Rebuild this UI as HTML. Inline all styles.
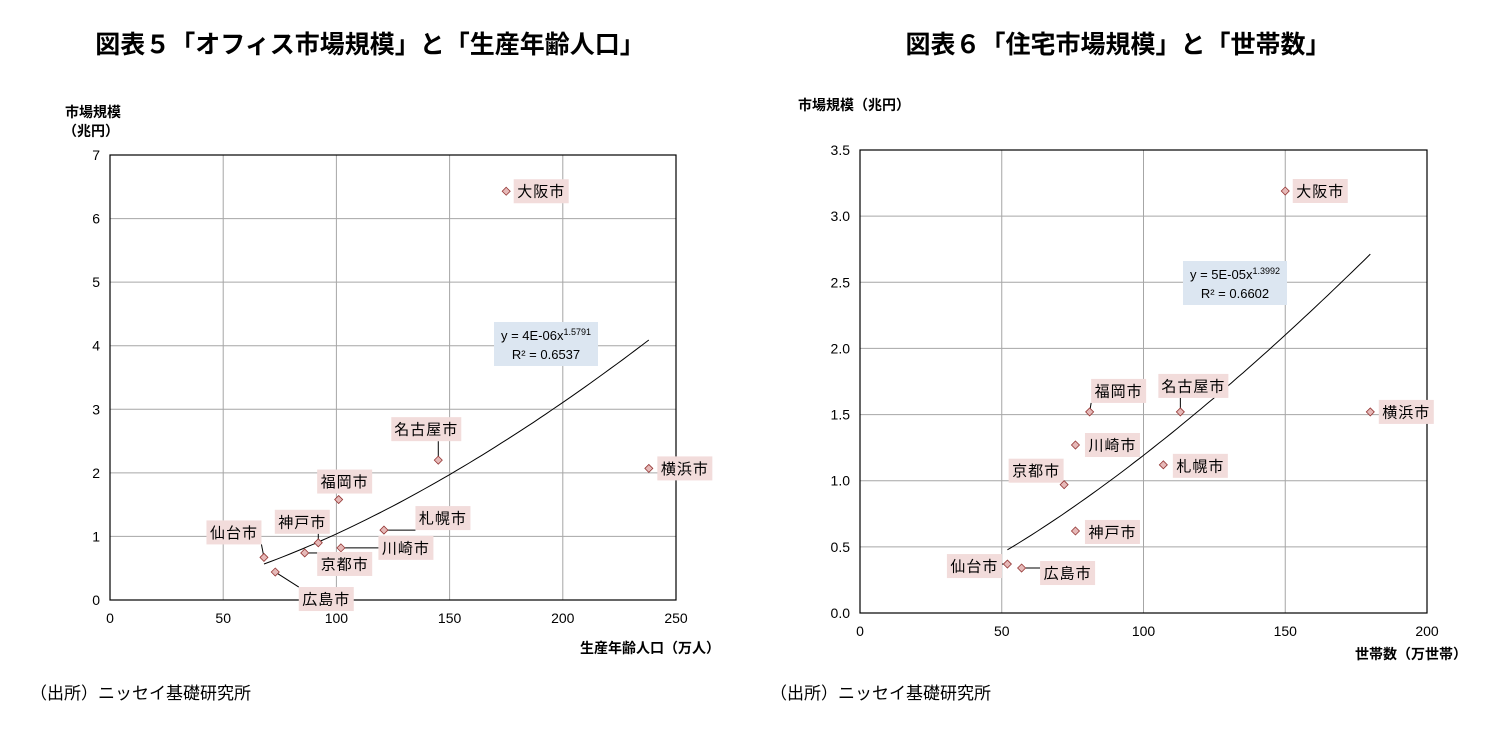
<!DOCTYPE html>
<html><head><meta charset="utf-8">
<style>
body{margin:0;background:#fff;font-family:"Liberation Sans","Noto Sans CJK JP",sans-serif;}
svg text{font-family:"Liberation Sans","Noto Sans CJK JP",sans-serif;}
</style></head>
<body>
<svg id="svg" width="1496" height="731" viewBox="0 0 1496 731" xmlns="http://www.w3.org/2000/svg">
<text x="370" y="53" text-anchor="middle" font-size="25" font-weight="bold" fill="#000">図表５「オフィス市場規模」と「生産年齢人口」</text>
<text x="1118" y="53" text-anchor="middle" font-size="25" font-weight="bold" fill="#000">図表６「住宅市場規模」と「世帯数」</text>
<text x="65" y="117" font-size="14" font-weight="bold">市場規模</text>
<text x="63" y="136" font-size="14" font-weight="bold">（兆円）</text>
<text x="720" y="653" text-anchor="end" font-size="14" font-weight="bold">生産年齢人口（万人）</text>
<text x="798" y="110" font-size="14" font-weight="bold">市場規模（兆円）</text>
<text x="1467" y="659" text-anchor="end" font-size="14" font-weight="bold">世帯数（万世帯）</text>
<text x="30" y="699" font-size="17">（出所）ニッセイ基礎研究所</text>
<text x="770" y="699" font-size="17">（出所）ニッセイ基礎研究所</text>
<g id="left"></g>
<g id="right"></g>
</svg>
<script>
// Left chart data
const leftCities = ["大阪市","横浜市","名古屋市","福岡市","札幌市","神戸市","川崎市","京都市","仙台市","広島市"];
const leftX = [175,238,145,101,121,92,102,86,68,73];
const leftY = [6.43,2.07,2.2,1.58,1.1,0.9,0.82,0.74,0.67,0.44];
const leftXTicks = [0,50,100,150,200,250];
const leftYTicks = [0,1,2,3,4,5,6,7];
const leftTrendExp = 1.5791;
// Right chart data
const rightCities = ["大阪市","横浜市","名古屋市","福岡市","川崎市","札幌市","京都市","神戸市","仙台市","広島市"];
const rightX = [150,180,113,81,76,107,72,76,52,57];
const rightY = [3.19,1.52,1.52,1.52,1.27,1.12,0.97,0.62,0.37,0.34];
const rightXTicks = [0,50,100,150,200];
const rightYTicks = [0,0.5,1,1.5,2,2.5,3,3.5];
const rightYLabels = ["0.0","0.5","1.0","1.5","2.0","2.5","3.0","3.5"];
const rightTrendExp = 1.3992;

const NS="http://www.w3.org/2000/svg";
function mk(parent,tag,attrs,text){const e=document.createElementNS(NS,tag);for(const k in attrs)e.setAttribute(k,attrs[k]);if(text!==undefined)e.textContent=text;parent.appendChild(e);return e;}

// label center offsets from point (layout): [dx,dy,leader]
const leftLab={"大阪市":[35,0,0],"横浜市":[36,0,0],"名古屋市":[-12,-31,1],"福岡市":[6,-18,0],"札幌市":[59,-12,1],"神戸市":[-16,-21,1],"川崎市":[65,0,1],"京都市":[40,11,1],"仙台市":[-30,-25,1],"広島市":[51,27,1]};
const rightLab={"大阪市":[35,0,0],"横浜市":[36,0,0],"名古屋市":[13,-26,1],"福岡市":[29,-21,1],"川崎市":[37,0,0],"札幌市":[37,1,0],"京都市":[-28,-14,1],"神戸市":[37,1,0],"仙台市":[-33,2,1],"広島市":[46,5,1]};

function build(g,o){
  const sx=v=>o.x0+(v-o.xmin)/(o.xmax-o.xmin)*(o.x1-o.x0);
  const sy=v=>o.y0-(v-o.ymin)/(o.ymax-o.ymin)*(o.y0-o.y1);
  o.xt.forEach((t,i)=>{const l=mk(g,'line',{x1:sx(t),x2:sx(t),y1:o.y1,y2:o.y0,stroke:'#a6a6a6','stroke-width':1});
    
    const tx=mk(g,'text',{x:sx(t),y:o.y0+23,'text-anchor':'middle','font-size':14},t);
    });
  o.yt.forEach((t,i)=>{const l=mk(g,'line',{x1:o.x0,x2:o.x1,y1:sy(t),y2:sy(t),stroke:'#a6a6a6','stroke-width':1});
    
    const tx=mk(g,'text',{x:o.x0-10,y:sy(t)+5,'text-anchor':'end','font-size':14},o.yl?o.yl[i]:t);
    });
  const fr=mk(g,'rect',{x:o.x0,y:o.y1,width:o.x1-o.x0,height:o.y0-o.y1,fill:'none',stroke:'#000','stroke-width':1.2});
  
  const xs=o.X, n=xs.length;
  let lx=0,ly=0;
  for(let i=0;i<n;i++){lx+=Math.log(xs[i]);ly+=Math.log(o.Y[i]);}
  const lnA=(ly-o.exp*lx)/n;
  const xmin=Math.min(...xs),xmax=Math.max(...xs);
  let d='';for(let k=0;k<=60;k++){const x=xmin+(xmax-xmin)*k/60;const y=Math.exp(lnA)*Math.pow(x,o.exp);d+=(k?'L':'M')+sx(x).toFixed(1)+','+sy(y).toFixed(1);}
  const tl=mk(g,'path',{d:d,fill:'none',stroke:'#000','stroke-width':1});
  
  const eb=mk(g,'rect',{x:o.eq[0],y:o.eq[1],width:104,height:44,fill:'#dce6f1'});
  
  const t1=mk(g,'text',{x:o.eq[0]+52,y:o.eq[1]+18,'text-anchor':'middle','font-size':13});
  
  mk(t1,'tspan',{},o.eqs[0]);mk(t1,'tspan',{'font-size':9,dy:-5},o.eqs[1]);
  const t2=mk(g,'text',{x:o.eq[0]+52,y:o.eq[1]+37,'text-anchor':'middle','font-size':13},o.eqs[2]);
  
  o.C.forEach((c,i)=>{const px=sx(o.X[i]),py=sy(o.Y[i]);const L=o.lab[c];
    const w=c.length*15+10,h=24;
    const cx=px+L[0], cy=py+L[1];
    if(L[2]){const ex=Math.max(cx-w/2,Math.min(cx+w/2,px)),ey=Math.max(cy-h/2,Math.min(cy+h/2,py));
      const ln=mk(g,'line',{x1:px,y1:py,x2:ex,y2:ey,stroke:'#000','stroke-width':1});
      }
    const r=mk(g,'rect',{x:cx-w/2,y:cy-h/2,width:w,height:h,fill:'#f2dcdb'});
    
    const t=mk(g,'text',{x:cx,y:cy+5.5,'text-anchor':'middle','font-size':15,'letter-spacing':'1'},c);
    
    const p=mk(g,'path',{d:`M${px},${py-4}L${px+4},${py}L${px},${py+4}L${px-4},${py}Z`,fill:'#e6b9b8',stroke:'#943634','stroke-width':0.8});
    
  });
}
build(document.getElementById('left'),{x0:110,x1:676,y0:600,y1:155,xmin:0,xmax:250,ymin:0,ymax:7,xt:leftXTicks,yt:leftYTicks,X:leftX,Y:leftY,C:leftCities,exp:leftTrendExp,lab:leftLab,eq:[494,322],eqs:["y = 4E-06x","1.5791","R² = 0.6537"]});
build(document.getElementById('right'),{x0:860,x1:1427,y0:613,y1:150,xmin:0,xmax:200,ymin:0,ymax:3.5,xt:rightXTicks,yt:rightYTicks,yl:rightYLabels,X:rightX,Y:rightY,C:rightCities,exp:rightTrendExp,lab:rightLab,eq:[1183,261],eqs:["y = 5E-05x","1.3992","R² = 0.6602"]});
</script>
</body></html>
